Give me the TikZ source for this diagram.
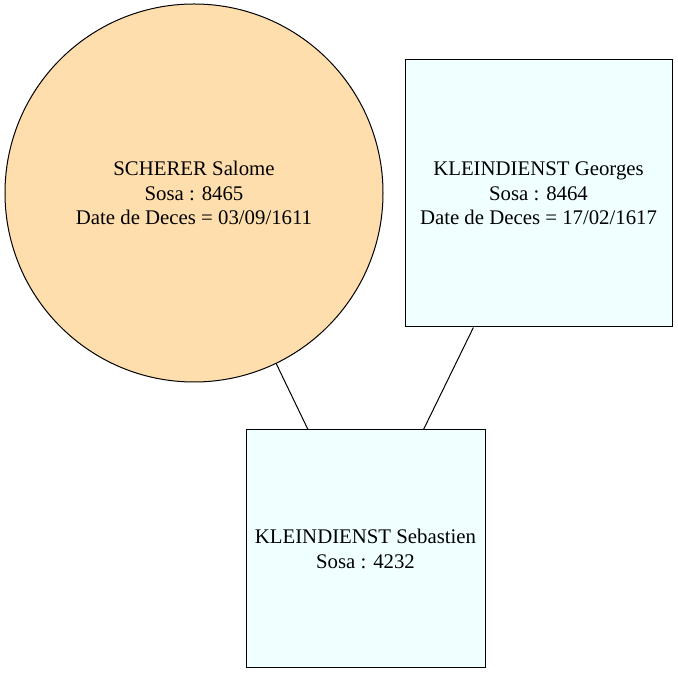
\documentclass[tikz,border=0pt]{standalone}
\usepackage{fontspec}
\setmainfont{Liberation Serif}
\usepackage{tikz}
\definecolor{mauvong}{HTML}{FFDEAD}
\definecolor{mauxanh}{HTML}{F0FFFF}

\begin{document}
\begin{tikzpicture}[x=1pt,y=1pt,line width=1pt,
	node font=\fontsize{20.8}{24.5}\selectfont,
	nutvong/.style={circle,draw=black,fill=mauvong,minimum size=378pt,inner sep=0pt,align=center},
	nutvuong/.style={rectangle,draw=black,fill=mauxanh,inner sep=0pt,align=center}]
			\useasboundingbox (0,0) rectangle (678,674);
			
			\node[nutvong] (salome) at (194,481) {SCHERER Salome\\Sosa : 8465\\Date de Deces = 03/09/1611};
			\node[nutvuong,minimum width=267pt,minimum height=267pt] (georges) at (538.5,480.5) {KLEINDIENST Georges\\Sosa : 8464\\Date de Deces = 17/02/1617};
			\node[nutvuong,minimum width=239pt,minimum height=238pt] (sebastien) at (365.5,125) {KLEINDIENST Sebastien\\Sosa : 4232};
			
			\draw (salome) -- (sebastien);
			\draw (georges) -- (sebastien);
		\end{tikzpicture}
\end{document}
